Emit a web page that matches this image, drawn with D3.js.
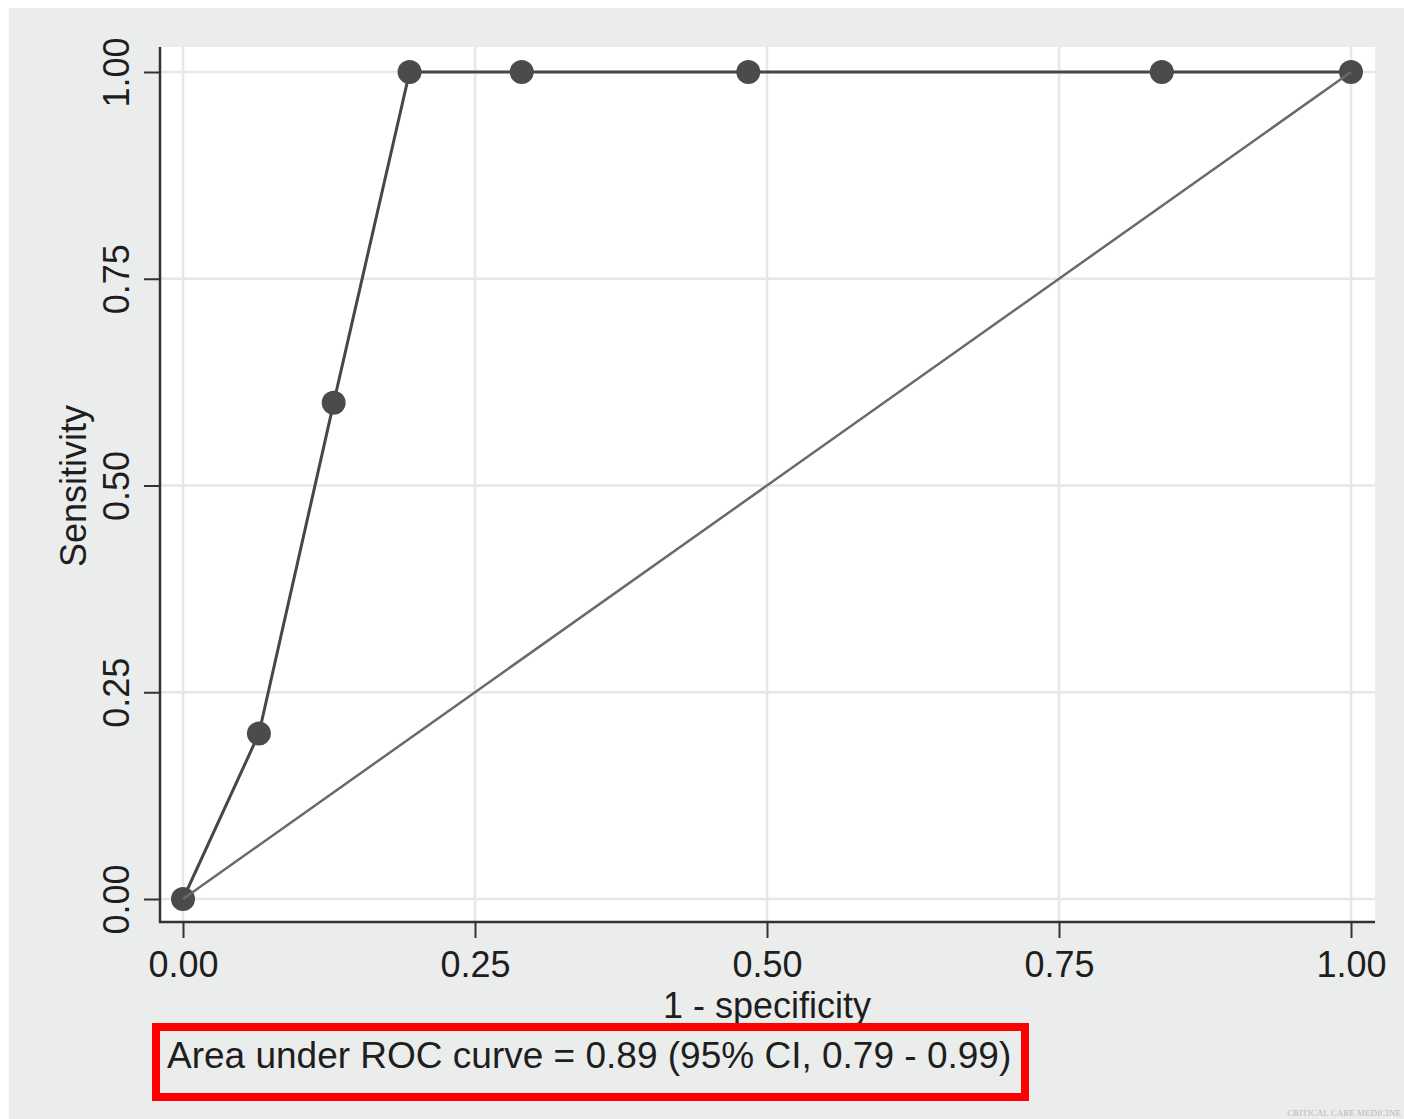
<!DOCTYPE html>
<html>
<head>
<meta charset="utf-8">
<script src="https://d3js.org/d3.v7.min.js"></script>
<style>
body { margin: 0; background: #fff; }
svg text { font-family: "Liberation Sans", Arial, sans-serif; fill: #1e1e1e; }
.tick line { stroke: #333; stroke-width: 2; }
.grid line { stroke: #e7e7e7; stroke-width: 2.5; }
</style>
</head>
<body>
<svg id="chart"></svg>
<script>
// ROC points
var fpr  = [0, 0.065, 0.129, 0.194, 0.290, 0.484, 0.838, 1];
var sens = [0, 0.2,   0.6,   1,     1,     1,     1,     1];
var refX = [0, 1];
var refY = [0, 1];
var tickVals = [0, 0.25, 0.5, 0.75, 1];
var xTitle = "1 - specificity";
var yTitle = "Sensitivity";
var aucText = "Area under ROC curve = 0.89 (95% CI, 0.79 - 0.99)";

var W = 1404, H = 1119;
var plotL = 160, plotR = 1375, plotT = 47, plotB = 922;

var svg = d3.select("#chart").attr("width", W).attr("height", H);

// grey page behind the plot
svg.append("rect").attr("x", 9).attr("y", 8).attr("width", W - 9).attr("height", H - 8)
    .attr("fill", "#ebecec");
svg.append("rect").attr("x", plotL).attr("y", plotT)
    .attr("width", plotR - plotL).attr("height", plotB - plotT).attr("fill", "#fff");

var x = d3.scaleLinear().domain([0, 1]).range([183, 1351]);
var y = d3.scaleLinear().domain([0, 1]).range([899, 72]);

// grid
var grid = svg.append("g").attr("class", "grid");
grid.selectAll(".gv").data(tickVals).enter().append("line")
    .attr("x1", function(d) { return x(d); }).attr("x2", function(d) { return x(d); })
    .attr("y1", plotT).attr("y2", plotB);
grid.selectAll(".gh").data(tickVals).enter().append("line")
    .attr("y1", function(d) { return y(d); }).attr("y2", function(d) { return y(d); })
    .attr("x1", plotL).attr("x2", plotR);

// axes
var fmt = d3.format(".2f");
var yAxis = svg.append("g").attr("transform", "translate(" + plotL + ",0)")
    .call(d3.axisLeft(y).tickValues(tickVals).tickFormat(fmt).tickSize(16));
yAxis.select(".domain").remove();
yAxis.selectAll(".tick text")
    .attr("transform", "rotate(-90)")
    .attr("x", 0).attr("y", -31).attr("dy", 0)
    .style("text-anchor", "middle")
    .style("font-size", "36px");

var xAxis = svg.append("g").attr("transform", "translate(0," + plotB + ")")
    .call(d3.axisBottom(x).tickValues(tickVals).tickFormat(fmt).tickSize(16));
xAxis.select(".domain").remove();
xAxis.selectAll(".tick text")
    .attr("y", 55).attr("dy", 0)
    .style("font-size", "36px");

svg.append("line").attr("x1", plotL).attr("x2", plotL).attr("y1", plotT).attr("y2", plotB + 1)
    .attr("stroke", "#333").attr("stroke-width", 2.5);
svg.append("line").attr("x1", plotL - 1).attr("x2", plotR).attr("y1", plotB).attr("y2", plotB)
    .attr("stroke", "#333").attr("stroke-width", 2.5);

// ROC curve
var rocData = fpr.map(function(d, i) { return [d, sens[i]]; });
var line = d3.line().x(function(d) { return x(d[0]); }).y(function(d) { return y(d[1]); });

svg.append("path").datum(rocData).attr("d", line)
    .attr("fill", "none").attr("stroke", "#474749").attr("stroke-width", 3);

svg.selectAll(".pt").data(rocData).enter().append("circle")
    .attr("cx", function(d) { return x(d[0]); })
    .attr("cy", function(d) { return y(d[1]); })
    .attr("r", 12)
    .attr("fill", "#4b4b4e");

// reference diagonal
svg.append("path").datum(refX.map(function(d, i) { return [d, refY[i]]; })).attr("d", line)
    .attr("fill", "none").attr("stroke", "#6a6a6a").attr("stroke-width", 2.5);

// titles
svg.append("text").attr("x", 767).attr("y", 1018)
    .style("text-anchor", "middle").style("font-size", "36px").text(xTitle);
svg.append("text").attr("transform", "translate(86,486) rotate(-90)")
    .style("text-anchor", "middle").style("font-size", "36px").text(yTitle);

// AUC box
svg.append("rect").attr("x", 156).attr("y", 1027).attr("width", 869).attr("height", 70)
    .attr("fill", "none").attr("stroke", "#ff0000").attr("stroke-width", 8);
svg.append("text").attr("x", 167).attr("y", 1068)
    .style("font-size", "37px").text(aucText);

// source mark, bottom right
svg.append("text").attr("x", 1401).attr("y", 1116)
    .style("font-family", "'Liberation Serif', serif").style("font-size", "9px")
    .style("fill", "#b8b8b8").style("text-anchor", "end")
    .text("CRITICAL CARE MEDICINE");
</script>
</body>
</html>
